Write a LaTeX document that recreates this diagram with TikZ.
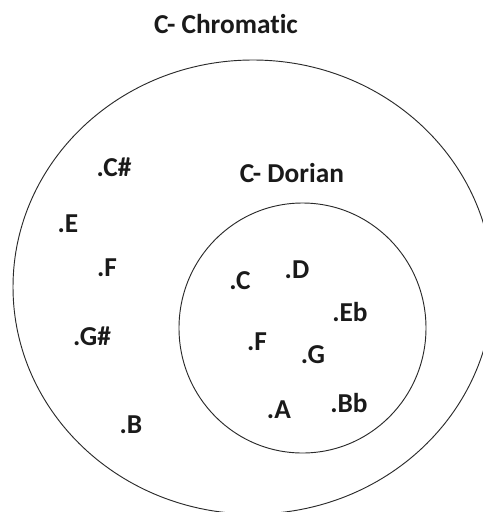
\documentclass[tikz,border=0pt]{standalone}
\usepackage{fontspec}
\setmainfont{Carlito}[Ligatures={NoCommon}]
\usepackage{tikz}
\usepackage{xcolor}
\usetikzlibrary{positioning}
\definecolor{ink}{HTML}{1A1A1A}
\definecolor{ringgray}{HTML}{2A2A2A}
\tikzset{
  setring/.style={draw=ringgray,line width=0.7pt},
  settitle/.style={anchor=base,inner sep=0pt,text=ink,
                   font=\fontsize{20.5}{24}\selectfont\bfseries},
  notelbl/.style={anchor=base,inner sep=0pt,text=ink,
                  font=\fontsize{20.5}{24}\selectfont\bfseries}
}

\begin{document}
\begin{tikzpicture}[x=0.75pt,y=-0.75pt]
  \useasboundingbox (0,0) rectangle (483,512);
  \clip (0,0) rectangle (483,512);
  % the two sets
  \draw[setring] (253,287) ellipse [x radius=240,y radius=227];
  \draw[setring] (302.5,328) ellipse [x radius=123.5,y radius=125];
  \node[settitle] (chromatic) at (226,33) {C- Chromatic};
  \node[settitle] (dorian) at (292,182) {C- Dorian};
  % chromatic only
  \node[notelbl] (csharp) at (114,176) {.C\#};
  \node[notelbl] (e) at (68,232) {.E};
  \node[notelbl] (fout) at (107,276) {.F};
  \node[notelbl] (gsharp) at (92,345) {.G\#};
  \node[notelbl] (b) at (131,433) {.B};
  % dorian
  \node[notelbl] (c) at (240,289) {.C};
  \node[notelbl] (d) at (297,278) {.D};
  \node[notelbl] (eflat) at (350,321) {.Eb};
  \node[notelbl] (fin) at (257,350) {.F};
  \node[notelbl] (g) at (313,363) {.G};
  \node[notelbl] (a) at (279,418) {.A};
  \node[notelbl] (bflat) at (349,412) {.Bb};
\end{tikzpicture}
\end{document}
